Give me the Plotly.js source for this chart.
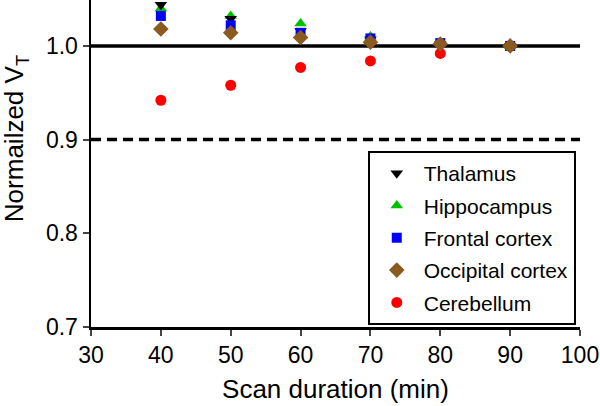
<!DOCTYPE html>
<html>
<head>
<meta charset="utf-8">
<script src="https://cdn.plot.ly/plotly-3.0.1.min.js"></script>
<style>html,body{margin:0;padding:0;background:#fff}#chart{width:600px;height:406px}</style>
</head>
<body>
<div id="chart"></div>
<script>
var durations = [40, 50, 60, 70, 80, 90];
var thalamus = [1.044, 1.029, 1.016, 1.007, 1.002, 1.000];
var hippocampus = [1.040, 1.032, 1.024, 1.010, 1.004, 1.000];
var frontal = [1.032, 1.022, 1.014, 1.008, 1.003, 1.000];
var occipital = [1.018, 1.014, 1.009, 1.004, 1.002, 1.000];
var cerebellum = [0.942, 0.958, 0.977, 0.984, 0.992, 1.000];
var seriesNames = ["Thalamus", "Hippocampus", "Frontal cortex", "Occipital cortex", "Cerebellum"];
var yTickVals = [0.7, 0.8, 0.9, 1.0];
var yTickText = ["0.7", "0.8", "0.9", "1.0"];
var xTickVals = [30, 40, 50, 60, 70, 80, 90, 100];
var refSolid = 1.0;
var refDashed = 0.9;

var F = "Liberation Sans, Arial, sans-serif";
var styles = [
  {symbol: "triangle-down", color: "#000000", size: 11},
  {symbol: "triangle-up", color: "#00c000", size: 11},
  {symbol: "square", color: "#0000ff", size: 10},
  {symbol: "diamond", color: "#8b5a1e", size: 12},
  {symbol: "circle", color: "#ff0000", size: 11}
];
var allY = [thalamus, hippocampus, frontal, occipital, cerebellum];
var traces = [];
var order = [4, 1, 0, 2, 3];
order.forEach(function(i){
  traces.push({
    x: durations, y: allY[i], name: seriesNames[i], type: "scatter", mode: "markers",
    legendrank: i + 1, legendgroup: "g" + i,
    marker: {symbol: styles[i].symbol, color: styles[i].color, size: styles[i].size, line: {width: 0}}
  });
});

var layout = {
  width: 600, height: 406,
  margin: {l: 91, r: 20, t: 0, b: 79},
  paper_bgcolor: "#fff", plot_bgcolor: "#fff",
  font: {family: F, color: "#000", size: 20},
  showlegend: true,
  legend: {
    x: 0.566, y: 0.538, xanchor: "left", yanchor: "top",
    bordercolor: "#000", borderwidth: 2, bgcolor: "#fff",
    font: {family: F, size: 21, color: "#000"},
    traceorder: "grouped", tracegroupgap: 2, itemwidth: 44
  },
  xaxis: {
    range: [30, 100], tickvals: xTickVals, ticks: "outside", ticklen: 6, tickwidth: 2,
    showline: true, linewidth: 2.5, linecolor: "#000", showgrid: false, zeroline: false,
    tickfont: {family: F, size: 23},
    title: {text: "Scan duration (min)", font: {family: F, size: 26}, standoff: 13}
  },
  yaxis: {
    range: [0.7, 1.049], tickvals: yTickVals, ticktext: yTickText, ticks: "outside", ticklen: 6, tickwidth: 2,
    showline: true, linewidth: 2.5, linecolor: "#000", showgrid: false, zeroline: false,
    tickfont: {family: F, size: 23}
  },
  annotations: [
    {text: "Normailzed V<sub>T</sub>", xref: "paper", yref: "paper", x: -0.153, y: 0.575,
     xanchor: "center", yanchor: "middle", textangle: -90, showarrow: false,
     font: {family: F, size: 26, color: "#000"}}
  ],
  shapes: [
    {type: "line", xref: "paper", x0: 0, x1: 1, yref: "y", y0: refSolid, y1: refSolid, line: {color: "#000", width: 3.5}, layer: "below"},
    {type: "line", xref: "paper", x0: 0, x1: 1, yref: "y", y0: refDashed, y1: refDashed, line: {color: "#000", width: 3.5, dash: "10px,6px"}, layer: "below"}
  ]
};
Plotly.newPlot("chart", traces, layout, {displayModeBar: false, staticPlot: true});
</script>
</body>
</html>
